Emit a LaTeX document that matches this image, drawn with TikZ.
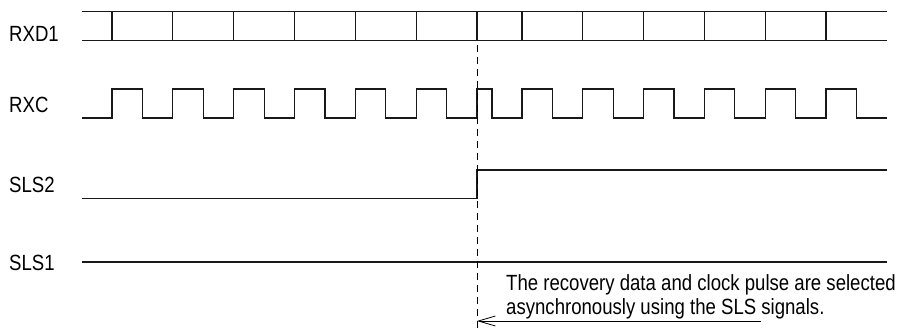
\documentclass[tikz,border=0pt]{standalone}
\usepackage{fontspec}
\setmainfont{Liberation Sans}[FakeStretch=0.845]
\usetikzlibrary{arrows.meta}
\begin{document}
\begin{tikzpicture}[x=1pt,y=-1pt,
  sig/.style={line width=1.2pt,line join=miter,black!90},
  lbl/.style={anchor=west,inner sep=0pt,font=\fontsize{22}{24}\selectfont},
  note/.style={anchor=base west,inner sep=0pt,align=left,font=\fontsize{22}{24}\selectfont},
  guide/.style={line width=0.8pt,dash pattern=on 7pt off 5pt},
  pointer/.style={line width=0.8pt,-{Straight Barb[length=17pt,width=10pt]}}]
\useasboundingbox (0,0) rectangle (898,330);
% labels
\node[lbl] (rxd) at (9,33.5) {RXD1};
\node[lbl] (rxc) at (9,105) {RXC};
\node[lbl] (sls2) at (9,185) {SLS2};
\node[lbl] (sls1) at (9,263) {SLS1};
% RXD1 bus
\draw[sig] (82,11.5) -- (887,11.5) (82,40.5) -- (887,40.5);
\foreach \x in {112,172.8,233.7,294.5,355.4,416.2,477,522,582.8,643.6,704.4,765.2,826}
  \draw[sig] (\x,11.5) -- (\x,40.5);
% RXC clock
\draw[sig] (82,118)
  foreach \x in {112,172.8,233.7,294.5,355.4,416.2} { -- (\x,118) -- (\x,89) -- (\x+30.4,89) -- (\x+30.4,118) }
  -- (477,118) -- (477,89) -- (492,89) -- (492,118)
  foreach \x in {522,582.8,643.6,704.4,765.2,826} { -- (\x,118) -- (\x,89) -- (\x+30.4,89) -- (\x+30.4,118) }
  -- (887,118);
% SLS2
\draw[sig] (82,198.5) -- (477,198.5) -- (477,170) -- (887,170);
% SLS1
\draw[sig] (82,262) -- (887,262);
% dashed guide
\coordinate (gtop) at (477,45);
\coordinate (gbot) at (477,330);
\draw[guide] (gtop) -- (gbot);
% annotation
\node[note] (txt) at (506,314.5) {The recovery data and clock pulse are selected\\asynchronously using the SLS signals.};
\coordinate (ae) at (761,321);
\coordinate (at) at (477,321);
\draw[pointer] (ae) -- (at);
\end{tikzpicture}
\end{document}
